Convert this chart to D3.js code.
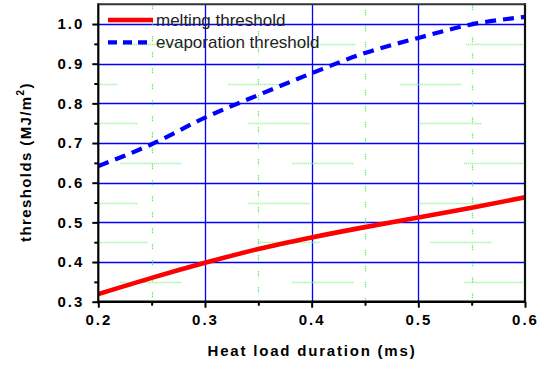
<!DOCTYPE html>
<html>
<head>
<meta charset="utf-8">
<script src="https://cdn.jsdelivr.net/npm/d3@7"></script>
<style>
  html, body { margin: 0; padding: 0; background: #fff; }
  svg { display: block; }
  text { font-family: Arial, "Liberation Sans", Helvetica, sans-serif; }
</style>
</head>
<body>
<svg id="chart" width="543" height="367"></svg>
<script>
// Heat load duration (ms)
const durations = [0.2, 0.25, 0.3, 0.35, 0.4, 0.45, 0.5, 0.55, 0.6];
// Thresholds (MJ/m^2)
const melting     = [0.319, 0.360, 0.398, 0.433, 0.462, 0.488, 0.512, 0.537, 0.563];
const evaporation = [0.642, 0.697, 0.764, 0.821, 0.876, 0.927, 0.965, 0.999, 1.018];

const seriesNames = ["melting threshold", "evaporation threshold"];
const xTicks = [0.2, 0.3, 0.4, 0.5, 0.6];
const yTicks = [0.3, 0.4, 0.5, 0.6, 0.7, 0.8, 0.9, 1.0];
const xMinor = [0.25, 0.35, 0.45, 0.55];
const yMinor = [0.35, 0.45, 0.55, 0.65, 0.75, 0.85, 0.95];

const svg = d3.select("#chart");
const x = d3.scaleLinear().domain([0.2, 0.6]).range([98.3, 525]);
const y = d3.scaleLinear().domain([0.3, 1.05]).range([301.7, 4.2]);
const [x0, x1] = x.range();
const [yb, yt] = y.range();

// blue major grid
const grid = svg.append("g");
grid.selectAll(".hg").data(yTicks.slice(1)).join("line")
  .attr("x1", x0).attr("x2", x1)
  .attr("y1", d => Math.round(y(d)) + 0.5).attr("y2", d => Math.round(y(d)) + 0.5)
  .attr("stroke", "#0000ff").attr("stroke-width", 1.3);
grid.selectAll(".vg").data(xTicks.slice(1, -1)).join("line")
  .attr("x1", d => Math.round(x(d)) + 0.5).attr("x2", d => Math.round(x(d)) + 0.5)
  .attr("y1", yt).attr("y2", yb)
  .attr("stroke", "#0000ff").attr("stroke-width", 1.3);

// green minor grid: dotted runs repeating along each row
const runOn = 62, period = 172;
const dotted = [];
for (let i = 0; i < runOn / 2; i++) dotted.push(1, 1);
dotted[dotted.length - 1] += period - runOn;
const rowPhase = [22, -12, -22, 22, -22, -42, 24];
grid.selectAll(".hm").data(yMinor).join("line")
  .attr("x1", x0 + 2).attr("x2", x1 - 2)
  .attr("y1", d => Math.round(y(d)) + 0.5).attr("y2", d => Math.round(y(d)) + 0.5)
  .attr("stroke", "#7ef27e").attr("stroke-width", 1.3)
  .attr("stroke-dasharray", dotted.join(","))
  .attr("stroke-dashoffset", (d, i) => ((period - rowPhase[i] + 2) % period + period) % period);
grid.selectAll(".vm").data(xMinor).join("line")
  .attr("x1", d => Math.round(x(d)) + 0.5).attr("x2", d => Math.round(x(d)) + 0.5)
  .attr("y1", yt).attr("y2", yb)
  .attr("stroke", "#3ee03e").attr("stroke-width", 1.3)
  .attr("stroke-dasharray", "1,1,1,1,1,11")
  .attr("stroke-dashoffset", (d, i) => i * 5);

// curves
svg.append("clipPath").attr("id", "plot")
  .append("rect").attr("x", x0).attr("y", yt).attr("width", x1 - x0).attr("height", yb - yt);
const line = vals => d3.line()
  .x((d, i) => x(durations[i]))
  .y(d => y(d))
  .curve(d3.curveMonotoneX)(vals);
const curves = svg.append("g").attr("clip-path", "url(#plot)");
curves.append("path").attr("d", line(melting))
  .attr("fill", "none").attr("stroke", "#ff0000").attr("stroke-width", 4.6);
curves.append("path").attr("d", line(evaporation))
  .attr("fill", "none").attr("stroke", "#0000ff").attr("stroke-width", 4.2)
  .attr("stroke-dasharray", "11,7");

// axes
const axisFont = g => g.selectAll("text")
  .attr("font-size", 15).attr("font-weight", "bold").attr("fill", "#000")
  .attr("letter-spacing", 2);
const xAxis = svg.append("g").attr("transform", `translate(0,${yb})`)
  .call(d3.axisBottom(x).tickValues(xTicks).tickFormat(d3.format(".1f")).tickSize(6).tickPadding(7))
  .call(axisFont);
xAxis.select(".domain").remove();
xAxis.selectAll("line").attr("stroke-width", 2);
svg.append("g").attr("transform", `translate(0,${yb})`)
  .call(d3.axisBottom(x).tickValues(xMinor).tickFormat("").tickSize(4))
  .call(g => g.select(".domain").remove())
  .selectAll("line").attr("stroke-width", 2);

const yAxis = svg.append("g").attr("transform", `translate(${x0},0)`)
  .call(d3.axisLeft(y).tickValues(yTicks).tickFormat(d3.format(".1f")).tickSize(6).tickPadding(8))
  .call(axisFont);
yAxis.select(".domain").remove();
yAxis.selectAll("line").attr("stroke-width", 2);
svg.append("g").attr("transform", `translate(${x0},0)`)
  .call(d3.axisLeft(y).tickValues(yMinor).tickFormat("").tickSize(4))
  .call(g => g.select(".domain").remove())
  .selectAll("line").attr("stroke-width", 2);

// frame
svg.append("line").attr("x1", x0).attr("x2", x0).attr("y1", yt - 1).attr("y2", yb + 1.5)
  .attr("stroke", "#000").attr("stroke-width", 2.2);
svg.append("line").attr("x1", x0 - 1).attr("x2", x1 + 1).attr("y1", yb).attr("y2", yb)
  .attr("stroke", "#000").attr("stroke-width", 2.6);
svg.append("line").attr("x1", x1).attr("x2", x1).attr("y1", yt - 1).attr("y2", yb)
  .attr("stroke", "#111").attr("stroke-width", 2.2);
svg.append("line").attr("x1", x0).attr("x2", x1 + 1).attr("y1", yt).attr("y2", yt)
  .attr("stroke", "#333").attr("stroke-width", 2);

// axis titles
svg.append("text").attr("x", 312).attr("y", 356)
  .attr("text-anchor", "middle").attr("font-size", 15).attr("font-weight", "bold")
  .attr("letter-spacing", 1.8).text("Heat load duration (ms)");
const yTitle = svg.append("text")
  .attr("transform", "translate(31,162) rotate(-90)")
  .attr("text-anchor", "middle").attr("font-size", 15).attr("font-weight", "bold")
  .attr("letter-spacing", 1.4);
yTitle.append("tspan").text("thresholds (MJ/m");
yTitle.append("tspan").attr("font-size", 10).attr("dy", -7).text("2");
yTitle.append("tspan").attr("dy", 7).text(")");

// legend
const legend = svg.append("g");
const legendRows = [
  { name: seriesNames[0], color: "#ff0000", dash: null, width: 4.6, y: 20 },
  { name: seriesNames[1], color: "#0000ff", dash: "9,6", width: 4.2, y: 42.3 }
];
legendRows.forEach(r => {
  legend.append("line").attr("x1", 108).attr("x2", 153).attr("y1", r.y).attr("y2", r.y)
    .attr("stroke", r.color).attr("stroke-width", r.width)
    .attr("stroke-dasharray", r.dash);
  legend.append("text").attr("x", 156).attr("y", r.y + 6)
    .attr("font-size", 17).attr("fill", "#222").text(r.name);
});
</script>
</body>
</html>
